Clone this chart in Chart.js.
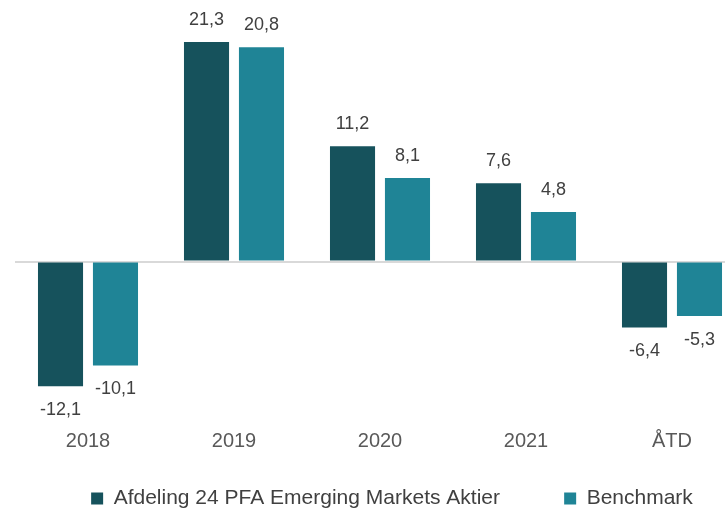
<!DOCTYPE html>
<html>
<head>
<meta charset="utf-8">
<script src="https://cdn.jsdelivr.net/npm/chart.js@4/dist/chart.umd.min.js"></script>
<style>
  html, body { margin: 0; padding: 0; background: #fff; overflow: hidden; }
  #wrap { width: 745px; height: 519px; }
</style>
</head>
<body>
<div id="wrap"><canvas id="returnsChart"></canvas></div>
<script>
const categories = ['2018', '2019', '2020', '2021', 'ÅTD'];
const fundReturns = [-12.1, 21.3, 11.2, 7.6, -6.4];
const benchmarkReturns = [-10.1, 20.8, 8.1, 4.8, -5.3];

const fmt = v => v.toFixed(1).replace('.', ',');
const fontFamily = '"Liberation Sans", Arial, sans-serif';

// draws the value above / below each bar
const barValues = {
    id: 'barValues',
    afterDatasetsDraw(chart) {
        const ctx = chart.ctx;
        ctx.save();
        ctx.font = '18px ' + fontFamily;
        ctx.fillStyle = '#404040';
        ctx.textAlign = 'center';
        ctx.textBaseline = 'middle';
        chart.data.datasets.forEach((ds, i) => {
            chart.getDatasetMeta(i).data.forEach((bar, j) => {
                const v = ds.data[j];
                const y = v >= 0 ? bar.y - 22 : bar.y + 24;
                ctx.fillText(fmt(v), bar.x, y);
            });
        });
        ctx.restore();
    }
};

// nudge the legend a bit to the right
const legendShift = {
    id: 'legendShift',
    afterLayout(chart) {
        chart.legend.left += 12;
        chart.legend.right += 12;
    }
};

new Chart(document.getElementById('returnsChart').getContext('2d'), {
    type: 'bar',
    data: {
        labels: categories,
        datasets: [{
            label: 'Afdeling 24 PFA Emerging Markets Aktier',
            data: fundReturns,
            backgroundColor: '#16525c',
            categoryPercentage: 0.753,
            barPercentage: 0.82
        }, {
            label: 'Benchmark',
            data: benchmarkReturns,
            backgroundColor: '#1f8496',
            categoryPercentage: 0.753,
            barPercentage: 0.82
        }]
    },
    options: {
        responsive: true,
        maintainAspectRatio: false,
        animation: false,
        layout: { padding: { left: 15, right: 0, top: 4, bottom: 0 } },
        plugins: {
            legend: {
                position: 'bottom',
                labels: {
                    boxWidth: 12,
                    boxHeight: 12,
                    padding: 0,
                    color: '#404040',
                    font: { family: fontFamily, size: 21 },
                    generateLabels(chart) {
                        const items = Chart.defaults.plugins.legend.labels.generateLabels(chart);
                        items[0].text += '           ';
                        return items;
                    }
                }
            },
            tooltip: { enabled: false }
        },
        scales: {
            x: {
                grid: { display: false },
                border: { display: false },
                ticks: {
                    color: '#595959',
                    padding: 5,
                    font: { family: fontFamily, size: 20 }
                },
                afterFit(scale) { scale.height += 30; }
            },
            y: {
                display: true,
                min: -15,
                max: 25,
                border: { display: false },
                grid: {
                    drawTicks: false,
                    color: ctx => ctx.tick.value === 0 ? '#d9d9d9' : 'transparent',
                    lineWidth: 2
                },
                ticks: { display: false, stepSize: 5 }
            }
        }
    },
    plugins: [barValues, legendShift]
});
</script>
</body>
</html>
